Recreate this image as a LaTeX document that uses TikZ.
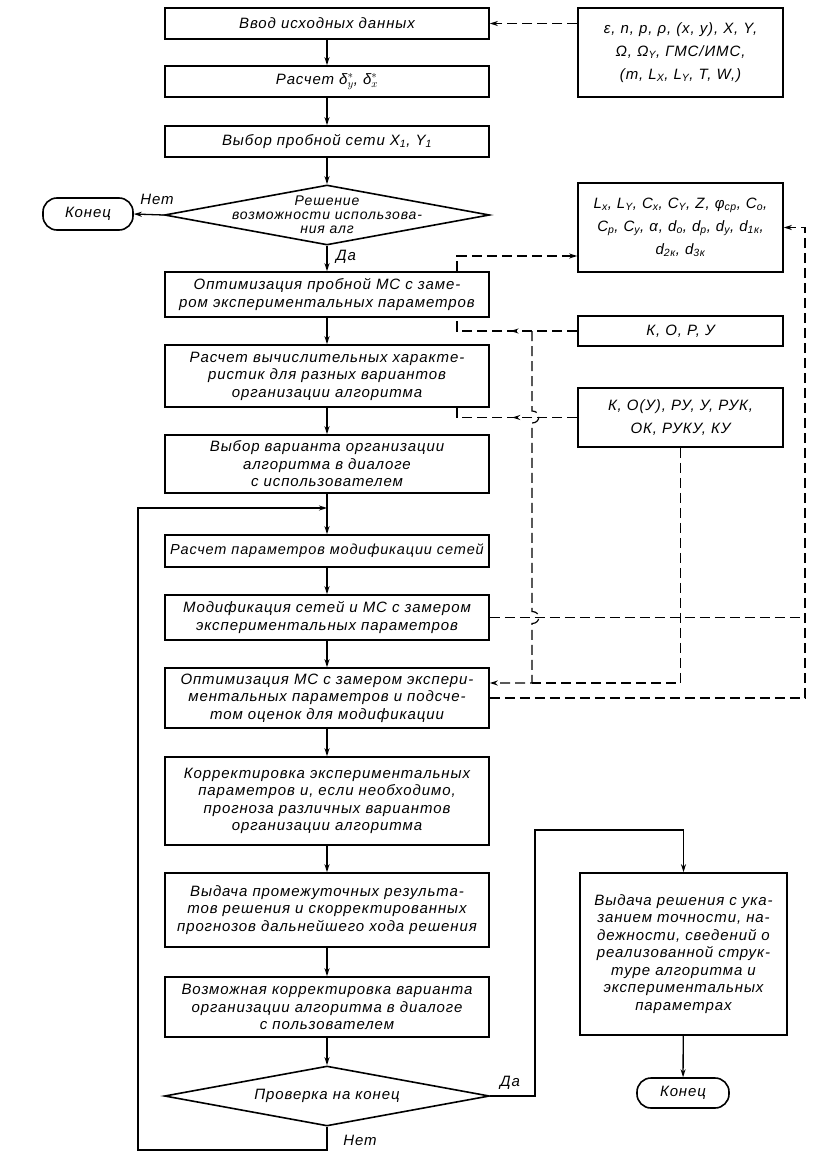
\documentclass[tikz,border=0pt]{standalone}
\usepackage{fontspec}
\newfontfamily\gost[LetterSpace=6]{Liberation Sans}
\usetikzlibrary{arrows.meta,shapes.geometric,decorations.markings}
\newcommand{\sbb}[1]{\textsubscript{#1}}
\begin{document}
\begin{tikzpicture}[x=1pt,y=-1pt,
  every node/.style={font=\gost\itshape\fontsize{15}{17.5}\selectfont},
  tip/.style={-{Stealth[length=8pt,width=5pt]}},
  box/.style={draw, line width=1.6pt, inner sep=2pt, align=center, minimum width=324pt},
  rbox/.style={draw, line width=1.6pt, inner sep=2pt, align=center, minimum width=205pt,
     font=\gost\itshape\fontsize{15}{23}\selectfont},
  dia/.style={draw, line width=1.6pt, diamond, inner sep=0pt, minimum width=325pt, minimum height=60pt},
  term/.style={draw, line width=1.6pt, rounded corners=14pt, inner sep=0pt},
  con/.style={line width=1.3pt},
  dsh/.style={line width=1.2pt, dash pattern=on 10pt off 5pt},
  midarrow/.style={postaction={decorate}, decoration={markings,
     mark=at position 0.5 with {\arrow{Stealth[length=8pt,width=5pt]}}}},
  lbl/.style={inner sep=0pt}
]
\useasboundingbox (0,0) rectangle (812,1153);
\fill[white] (0,0) rectangle (812,1153);

% main column
\node[box, minimum height=31pt] (b1) at (327,23.5) {Ввод исходных данных};
\node[box, minimum height=31pt] (b2) at (327,81.5) {Расчет δ$^{*}_{y}$, δ$^{*}_{x}$};
\node[box, minimum height=31pt] (b3) at (327,141.5) {Выбор пробной сети X\sbb{1}, Y\sbb{1}};
\node[dia] (d1) at (327,215) {};
\node[align=center, font=\gost\itshape\fontsize{14}{14}\selectfont] (d1t) at (327,215) {Решение\\возможности использова-\\ния алг};
\node[term, minimum width=90pt, minimum height=32pt] (e1) at (88,214) {Конец};
\node[box, minimum height=45pt] (b4) at (327,294.5) {Оптимизация пробной МС с заме-\\ром экспериментальных параметров};
\node[box, minimum height=62pt] (b5) at (327,376) {Расчет вычислительных характе-\\ристик для разных вариантов\\организации алгоритма};
\node[box, minimum height=58pt] (b6) at (327,464) {Выбор варианта организации\\алгоритма в диалоге\\с использователем};
\node[box, minimum height=32pt, font=\gost\itshape\fontsize{14.5}{17.5}\selectfont] (b7) at (327,551) {Расчет параметров модификации сетей};
\node[box, minimum height=45pt] (b8) at (327,617.5) {Модификация сетей и МС с замером\\экспериментальных параметров};
\node[box, minimum height=60pt] (b9) at (327,698) {Оптимизация МС с замером экспери-\\ментальных параметров и подсче-\\том оценок для модификации};
\node[box, minimum height=88pt] (b10) at (327,801) {Корректировка экспериментальных\\параметров и, если необходимо,\\прогноза различных вариантов\\организации алгоритма};
\node[box, minimum height=74pt] (b11) at (327,910) {Выдача промежуточных результа-\\тов решения и скорректированных\\прогнозов дальнейшего хода решения};
\node[box, minimum height=60pt] (b12) at (327,1007) {Возможная корректировка варианта\\организации алгоритма в диалоге\\с пользователем};
\node[dia] (d2) at (327,1096) {};
\node (d2t) at (327,1096) {Проверка на конец};

% right column
\node[rbox, minimum height=89pt] (r1) at (680.5,52.5) {ε, n, p, ρ, (x, y), X, Y,\\Ω, Ω\sbb{Y}, ГМС/ИМС,\\(m, L\sbb{X}, L\sbb{Y}, T, W,)};
\node[rbox, minimum height=89pt] (r2) at (680.5,227.5) {L\sbb{x}, L\sbb{Y}, C\sbb{x}, C\sbb{Y}, Z, φ\sbb{ср}, C\sbb{о},\\C\sbb{р}, C\sbb{у}, α, d\sbb{о}, d\sbb{р}, d\sbb{у}, d\sbb{1к},\\d\sbb{2к}, d\sbb{3к}};
\node[rbox, minimum height=30pt] (r3) at (680.5,331) {К, О, Р, У};
\node[rbox, minimum height=59pt] (r4) at (680.5,417.5) {К, О(У), РУ, У, РУК,\\ОК, РУКУ, КУ};
\node[box, minimum width=207pt, minimum height=162pt] (fb) at (683.5,954) {Выдача решения с ука-\\занием точности, на-\\дежности, сведений о\\реализованной струк-\\туре алгоритма и\\экспериментальных\\параметрах};
\node[term, minimum width=92pt, minimum height=30pt] (e2) at (683,1093) {Конец};

% solid connectors
\draw[con,tip] (b1) -- (b2);
\draw[con,tip] (b2) -- (b3);
\draw[con,tip] (b3) -- (d1.north);
\draw[con,tip] (d1.west) -- (e1.east);
\draw[con,tip] (d1.south) -- (b4);
\draw[con,tip] (b4) -- (b5);
\draw[con,tip] (b5) -- (b6);
\draw[con,tip] (b6) -- (b7);
\draw[con,tip] (b7) -- (b8);
\draw[con,tip] (b8) -- (b9);
\draw[con,tip] (b9) -- (b10);
\draw[con,tip] (b10) -- (b11);
\draw[con,tip] (b11) -- (b12);
\draw[con,tip] (b12) -- (d2.north);
\draw[con,tip] (fb) -- (e2);

\coordinate (lpb) at (138,1150);
\coordinate (lpt) at (138,508);
\draw[con,tip] (d2.south) -- (d2.south |- lpb) -- (lpb) -- (lpt) -- (lpt -| b6.south);
\coordinate (yes) at (535,830);
\draw[con,tip] (d2.east) -| (yes) -| (fb.north);

\node[lbl] at (157,199) {Нет};
\node[lbl] at (346,257) {Да};
\node[lbl] at (510,1083) {Да};
\node[lbl] at (360,1140) {Нет};

% dashed connectors
\draw[dsh,tip] (r1.west |- b1.east) -- (b1.east);
\coordinate (k1) at (457,256);
\draw[dsh,tip] (k1 |- b4.north) -- (k1) -- (k1 -| r2.west);
\draw[dsh,midarrow] (r3.west) -| (k1 |- b4.south);
\draw[dsh,midarrow] (r4.west) -| (k1 |- b5.south);
\coordinate (v1) at (532,331);
\coordinate (vj) at (532,683);
\draw[dsh,tip] (v1) -- (532,411) .. controls (541,411) and (541,423) .. (532,423)
   -- (532,611.5) .. controls (541,611.5) and (541,623.5) .. (532,623.5)
   -- (vj) -- ([yshift=15pt]b9.east);
\draw[dsh] (r4.south) |- (vj);
\coordinate (rv) at (805,0);
\draw[dsh] (b8.east) -- (b8.east -| rv);
\draw[dsh,tip] (b9.east) -- (b9.east -| rv) |- (r2.east);
\end{tikzpicture}
\end{document}
